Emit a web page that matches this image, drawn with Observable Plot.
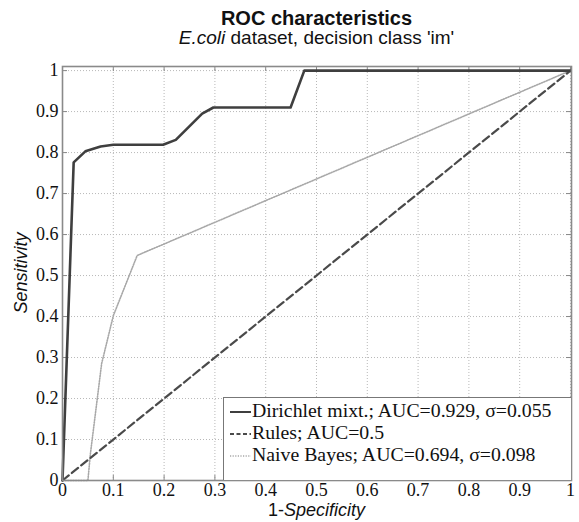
<!DOCTYPE html>
<html>
<head>
<meta charset="utf-8">
<script src="https://cdn.jsdelivr.net/npm/d3@7"></script>
<script src="https://cdn.jsdelivr.net/npm/@observablehq/plot@0.6"></script>
<style>
  html, body { margin: 0; padding: 0; background: #fff; }
  #wrap { position: relative; width: 579px; height: 522px; overflow: hidden; }
  #head { position: relative; height: 46px; }
  .ttl { position: absolute; left: 62px; width: 509px; text-align: center; font-family: "Liberation Sans", Arial, sans-serif; color: #111; white-space: nowrap; }
  #t1 { top: 9px; font-size: 20px; font-weight: bold; line-height: 19px; height: 19px; }
  #t2 { top: 28px; font-size: 19px; line-height: 19px; height: 19px; }
  #xlab { position: absolute; left: 62px; width: 509px; top: 501px; text-align: center; font: 18px "Liberation Sans", Arial, sans-serif; color: #111; line-height: 19px; }
  #ylab { position: absolute; left: 21px; top: 273px; transform: translate(-50%, -50%) rotate(-90deg); font: italic 18px "Liberation Sans", Arial, sans-serif; color: #111; white-space: nowrap; line-height: 20px; }
  #legend { position: absolute; left: 223px; top: 397px; width: 347px; height: 82px; border: 1px solid #777; border-right: none; border-bottom: none; background: #fff; font: 19.8px "Liberation Serif", "Times New Roman", serif; color: #111; }
  .row { position: absolute; left: 6px; height: 22px; line-height: 22px; white-space: nowrap; }
  .row svg { vertical-align: middle; margin-right: 1px; }
</style>
</head>
<body>
<div id="wrap">
  <div id="head">
    <div class="ttl" id="t1">ROC characteristics</div>
    <div class="ttl" id="t2"><i>E.coli</i> dataset, decision class 'im'</div>
  </div>
  <div id="plot"></div>
  <div id="ylab">Sensitivity</div>
  <div id="xlab">1-<i>Specificity</i></div>
  <div id="legend"></div>
</div>
<script>
// ---- data ----
const dirX = [0, 0.022, 0.045, 0.075, 0.100, 0.198, 0.223, 0.275, 0.297, 0.449, 0.476, 1];
const dirY = [0, 0.776, 0.803, 0.815, 0.819, 0.819, 0.831, 0.895, 0.910, 0.910, 1.000, 1];
const rulesX = [0, 1];
const rulesY = [0, 1];
const nbX = [0, 0.050, 0.055, 0.068, 0.077, 0.100, 0.147, 1];
const nbY = [0, 0.000, 0.066, 0.195, 0.285, 0.402, 0.549, 1];
const seriesNames = ["Dirichlet mixt.; AUC=0.929, \u03c3=0.055", "Rules; AUC=0.5", "Naive Bayes; AUC=0.694, \u03c3=0.098"];
const xTicks = [0, 0.1, 0.2, 0.3, 0.4, 0.5, 0.6, 0.7, 0.8, 0.9, 1];
const yTicks = [0, 0.1, 0.2, 0.3, 0.4, 0.5, 0.6, 0.7, 0.8, 0.9, 1];
const tickLabels = ["0", "0.1", "0.2", "0.3", "0.4", "0.5", "0.6", "0.7", "0.8", "0.9", "1"];

const styles = [
  {stroke: "#3f3f3f", strokeWidth: 2.6, strokeDasharray: null},
  {stroke: "#4a4a4a", strokeWidth: 2.2, strokeDasharray: "8,4"},
  {stroke: "#a8a8a8", strokeWidth: 1.6, strokeDasharray: "1.2,1.4"}
];

const toPts = (xs, ys) => xs.map((x, i) => ({x, y: ys[i]}));
const dir = toPts(dirX, dirY);
const rules = toPts(rulesX, rulesY);
const nb = toPts(nbX, nbY);
const fmt = d => tickLabels[xTicks.indexOf(d)] ?? String(d);
const serif = "Liberation Serif, Times New Roman, serif";

const chart = Plot.plot({
  width: 579,
  height: 476,
  marginTop: 20,
  marginBottom: 42,
  marginLeft: 62,
  marginRight: 8,
  style: {background: "#fff", overflow: "visible"},
  x: {domain: [0, 1.002], ticks: xTicks, tickFormat: fmt},
  y: {domain: [0, 1.01], ticks: yTicks, tickFormat: fmt},
  marks: [
    Plot.gridX(xTicks, {stroke: "#b8b8b8", strokeOpacity: 1, strokeDasharray: "1,2", strokeWidth: 1}),
    Plot.gridY(yTicks, {stroke: "#b8b8b8", strokeOpacity: 1, strokeDasharray: "1,2", strokeWidth: 1}),
    Plot.axisX(xTicks, {tickSize: 0, tickPadding: 3, label: null, tickFormat: fmt, fontFamily: serif, fontSize: 18, fill: "#111"}),
    Plot.axisY(yTicks, {tickSize: 0, tickPadding: 4, label: null, tickFormat: fmt, fontFamily: serif, fontSize: 18, fill: "#111"}),
    // inward tick marks on all four sides
    Plot.ruleX(xTicks, {x: d => d, y1: 0, y2: 0, insetTop: -5, stroke: "#888", strokeWidth: 1}),
    Plot.ruleX(xTicks, {x: d => d, y1: 1.01, y2: 1.01, insetBottom: -5, stroke: "#888", strokeWidth: 1}),
    Plot.ruleY(yTicks, {y: d => d, x1: 0, x2: 0, insetRight: -5, stroke: "#888", strokeWidth: 1}),
    Plot.ruleY(yTicks, {y: d => d, x1: 1.002, x2: 1.002, insetLeft: -5, stroke: "#888", strokeWidth: 1}),
    Plot.line(nb, {x: "x", y: "y", ...styles[2]}),
    Plot.line(rules, {x: "x", y: "y", ...styles[1]}),
    Plot.line(dir, {x: "x", y: "y", ...styles[0], strokeLinejoin: "round"}),
    Plot.frame({stroke: "#8a8a8a", strokeWidth: 1.6})
  ]
});
document.getElementById("plot").appendChild(chart);

// legend
const lg = document.getElementById("legend");
seriesNames.forEach((name, i) => {
  const row = document.createElement("div");
  row.className = "row";
  row.style.top = (1 + i * 22) + "px";
  const s = styles[i];
  row.innerHTML = `<svg width="21" height="10"><line x1="0" x2="21" y1="5" y2="5" stroke="${s.stroke}" stroke-width="${Math.min(s.strokeWidth, 2)}" ${s.strokeDasharray ? `stroke-dasharray="${i === 1 ? "4,2.5" : s.strokeDasharray}"` : ""}/></svg>${name}`;
  lg.appendChild(row);
});
</script>
</body>
</html>
